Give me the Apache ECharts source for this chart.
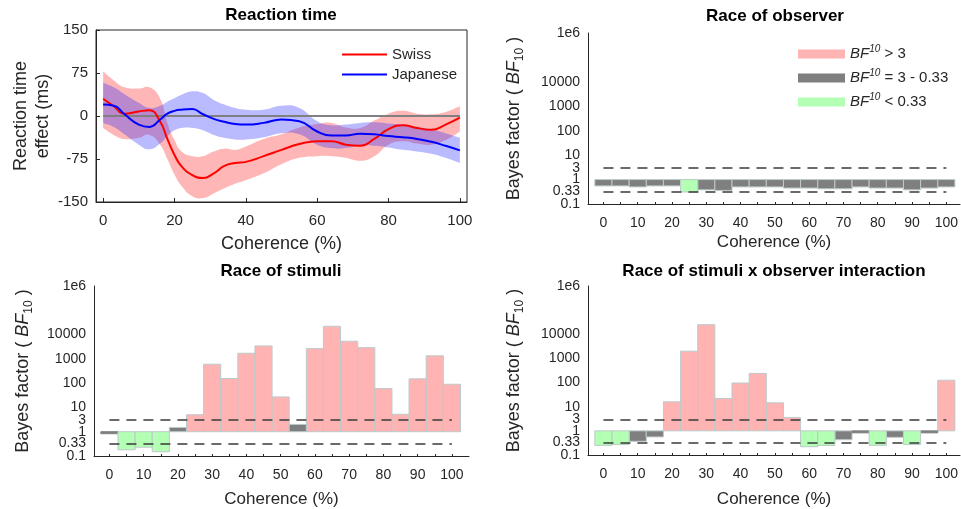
<!DOCTYPE html>
<html><head><meta charset="utf-8">
<script src="https://cdn.jsdelivr.net/npm/echarts@6/dist/echarts.min.js"></script>
<style>html,body{margin:0;padding:0;background:#fff}#c{width:961px;height:509px}</style>
</head><body><div id="c"></div>
<script>
// ---- Reaction time panel data ----
const coherence   = [0,3,6,10,13,16,18,20,22,25,28,31,34,37,40,45,50,55,60,64,68,72,76,80,84,88,92,96,100];
const swissMean   = [30,17,4,8,10,-10,-40,-68,-88,-103,-108,-100,-87,-82,-80,-70,-59,-49,-44,-44,-50,-52,-40,-23,-16,-21,-24,-15,-3];
const swissUpper  = [78,62,50,48,50,30,-12,-42,-62,-70,-70,-62,-57,-59,-53,-40,-32,-20,-14,-12,-20,-21,-8,4,9,4,3,7,17];
const swissLower  = [-21,-33,-40,-38,-33,-50,-75,-102,-122,-140,-143,-135,-126,-118,-112,-100,-84,-73,-70,-70,-73,-78,-70,-50,-44,-48,-50,-42,-27];
const japanMean   = [20,18,3,-15,-19,-6,4,9,11,12,3,-5,-10,-14,-15,-12,-6,-9,-27,-34,-34,-31,-32,-35,-37,-40,-45,-52,-60];
const japanUpper  = [58,50,38,23,14,18,25,31,37,43,40,28,20,14,11,11,18,14,-9,-16,-15,-12,-11,-13,-15,-19,-23,-30,-38];
const japanLower  = [-12,-19,-32,-50,-58,-48,-35,-25,-21,-21,-25,-33,-38,-41,-41,-37,-30,-32,-50,-56,-56,-51,-52,-55,-59,-62,-66,-73,-82];
const rtTicks = [-150,-75,0,75,150];
const rtXTicks = [0,20,40,60,80,100];

// ---- Bayes factor panels data ----
const binCenters = [0,5,10,15,20,25,30,35,40,45,50,55,60,65,70,75,80,85,90,95,100];
const bfObserver    = [0.55,0.55,0.5,0.55,0.55,0.31,0.38,0.36,0.5,0.5,0.5,0.45,0.45,0.42,0.42,0.5,0.45,0.45,0.38,0.45,0.5];
const bfStimuli     = [0.9,0.18,0.23,0.15,1.5,5,600,155,1700,3400,27,2,2650,22000,5300,2900,60,5.2,150,1330,90];
const bfInteraction = [0.25,0.27,0.37,0.56,16,2000,25000,22,96,240,14.5,3.6,0.22,0.25,0.43,0.85,0.25,0.54,0.27,0.85,125];
const bfTicks = [0.1,0.33,1,3,10,100,1000,10000,1000000];
const bfTickLabels = ['0.1','0.33','1','3','10','100','1000','10000','1e6'];
const bfXTicks = [0,10,20,30,40,50,60,70,80,90,100];
const thresholds = [0.33, 3];

const txt = '#262626';
const barColors = {gt:'#FFB3B3', mid:'#7F7F7F', lt:'#B3FFB3'};
const barEdge = '#BCCACA';
const binWidth = 5;
const SMOOTH = 0.5;

const zip = (a,b) => a.map((v,i)=>[v,b[i]]);

// smooth path through pixel points (same scheme as ECharts' smooth line)
function smoothSegs(pts, start){
  let d = start ? 'M' + pts[0][0] + ',' + pts[0][1] : 'L' + pts[0][0] + ',' + pts[0][1];
  let cp0 = pts[0].slice();
  for (let i = 1; i < pts.length; i++) {
    const p = pts[i], prev = pts[i-1], next = pts[Math.min(i+1, pts.length-1)];
    const vx = next[0]-prev[0], vy = next[1]-prev[1];
    const l0 = Math.hypot(p[0]-prev[0], p[1]-prev[1]);
    const l1 = Math.hypot(next[0]-p[0], next[1]-p[1]);
    const r = (l0 + l1) > 0 ? l1/(l0+l1) : 0.5;
    const cp1 = [p[0]-vx*SMOOTH*(1-r), p[1]-vy*SMOOTH*(1-r)];
    d += 'C' + cp0[0] + ',' + cp0[1] + ',' + cp1[0] + ',' + cp1[1] + ',' + p[0] + ',' + p[1];
    cp0 = [p[0]+vx*SMOOTH*r, p[1]+vy*SMOOTH*r];
  }
  return d;
}

function bandSeries(name, upper, lower, color, idx){
  return {type:'custom', name:name, xAxisIndex:idx, yAxisIndex:idx, silent:true, z:1,
    data: coherence.map((c,i)=>[c, lower[i], upper[i]]),
    encode:{x:0, y:[1,2]},
    renderItem:(params, api) => {
      if (params.dataIndex !== 0) return null;
      const up = coherence.map((c,i)=>api.coord([c, upper[i]]));
      const lo = coherence.map((c,i)=>api.coord([c, lower[i]])).reverse();
      const d = smoothSegs(up, true) + smoothSegs(lo, false) + 'Z';
      return {type:'path', shape:{pathData:d}, style:{fill:color, stroke:null}};
    }};
}

function barSeries(values, idx){
  const groups = {gt:[], mid:[], lt:[]};
  binCenters.forEach((c,i)=>{
    const v = values[i];
    const k = v > thresholds[1] ? 'gt' : (v < thresholds[0] ? 'lt' : 'mid');
    groups[k].push([c, v]);
  });
  return ['gt','mid','lt'].map(k => {
    const s = {
      type:'custom', name:k, xAxisIndex:idx, yAxisIndex:idx, data:groups[k],
      itemStyle:{color:barColors[k]}, encode:{x:0, y:1}, silent:true,
      renderItem:(params, api) => {
        const x = api.value(0), v = api.value(1);
        const a = api.coord([x - binWidth/2, 1]);
        const b = api.coord([x + binWidth/2, v]);
        const h = Math.abs(b[1]-a[1]);
        return {type:'rect', shape:{x:a[0], y:Math.min(a[1],b[1]), width:b[0]-a[0], height:Math.max(h,2)},
                style:{fill:barColors[k], stroke: h < 3 ? barColors[k] : barEdge, lineWidth:1}};
      }
    };
    if (k === 'mid') {
      s.markLine = {silent:true, symbol:'none', label:{show:false},
        lineStyle:{color:'#3a3a3a', type:[10,7], width:1.6},
        data: thresholds.map(t => [{coord:[binCenters[0], t]}, {coord:[binCenters[binCenters.length-1], t]}])};
    }
    return s;
  });
}

// label order: keep the two closely spaced low labels away from the first/last slots
const bfLabelValues = [bfTicks[0], ...bfTicks.slice(2), bfTicks[1]];

const bfName = 'Bayes factor ( {i|BF}{sub|10} )';
const bfNameStyle = {fontFamily:'Liberation Sans', fontSize:18, color:txt, lineHeight:24,
  rich:{i:{fontStyle:'italic', fontSize:18, fontFamily:'Liberation Sans', color:txt, lineHeight:24},
        sub:{fontSize:12, fontFamily:'Liberation Sans', color:txt, verticalAlign:'bottom', lineHeight:24}}};

function bfX(idx, max, gap){
  return {type:'value', gridIndex:idx, min:-4.5, max:max,
    axisLine:{onZero:false, lineStyle:{color:txt, width:1}},
    axisTick:{inside:true, length:2, customValues:binCenters, lineStyle:{color:txt}},
    axisLabel:{customValues:bfXTicks, fontFamily:'Liberation Sans', fontSize:14, color:txt, margin:12},
    splitLine:{show:false},
    name:'Coherence (%)', nameLocation:'middle', nameGap:gap,
    nameTextStyle:{fontFamily:'Liberation Sans', fontSize:17, color:txt}};
}
function bfY(idx, gap){
  return {type:'log', logBase:10, gridIndex:idx, min:0.1, max:1000000,
    axisLine:{show:true, onZero:false, lineStyle:{color:txt, width:1}},
    axisTick:{show:false},
    axisLabel:{customValues:bfLabelValues, showMinLabel:true, showMaxLabel:true, hideOverlap:false,
      fontFamily:'Liberation Sans', fontSize:14, color:txt, margin:8,
      formatter:(v)=>{ const i = bfTicks.findIndex(t=>Math.abs(t-v)/t<1e-6); return i>=0 ? bfTickLabels[i] : ''; }},
    splitLine:{show:false},
    name:bfName, nameLocation:'middle', nameGap:gap, nameTextStyle:bfNameStyle};
}

const titles = [
  ['Reaction time', 281, 15],
  ['Race of observer', 775, 16],
  ['Race of stimuli', 281, 271],
  ['Race of stimuli x observer interaction', 774, 271]
];

const option = {
  animation:false,
  backgroundColor:'#fff',
  graphic: titles.map(t => ({type:'text', x:t[1], y:t[2],
    style:{text:t[0], font:'bold 17px "Liberation Sans"', fill:'#000', align:'center', verticalAlign:'middle'}})),
  grid:[
    {left:96, top:30, width:371, height:172, show:true, borderColor:txt, borderWidth:1, backgroundColor:'transparent'},
    {left:588, top:33, width:373, height:171},
    {left:94, top:286, width:375, height:170},
    {left:588, top:286, width:373, height:170}
  ],
  legend:[
    {data:['Swiss','Japanese'], orient:'vertical', left:337, top:42, icon:'rect', itemWidth:45, itemHeight:2, itemGap:5,
     textStyle:{fontFamily:'Liberation Sans', fontSize:15, color:txt}, selectedMode:false},
    {data:[{name:'gt', icon:'rect'},{name:'mid', icon:'rect'},{name:'lt', icon:'rect'}], orient:'vertical', left:793, top:39,
     itemWidth:47, itemHeight:9, itemGap:6.5, selectedMode:false,
     formatter:(n)=>({gt:'{i|BF}{s|10}{t| > 3}', mid:'{i|BF}{s|10}{t| = 3 - 0.33}', lt:'{i|BF}{s|10}{t| < 0.33}'})[n],
     textStyle:{fontFamily:'Liberation Sans', fontSize:15, color:txt, rich:{
       i:{fontStyle:'italic', fontFamily:'Liberation Sans', fontSize:15, color:txt, lineHeight:20},
       s:{fontStyle:'italic', fontFamily:'Liberation Sans', fontSize:10, color:txt, verticalAlign:'top', lineHeight:20},
       t:{fontFamily:'Liberation Sans', fontSize:15, color:txt, lineHeight:20}}}}
  ],
  xAxis:[
    {type:'value', gridIndex:0, min:-2, max:102,
     axisLine:{onZero:false, lineStyle:{color:txt}}, axisTick:{inside:true, length:4, customValues:rtXTicks, lineStyle:{color:txt}},
     axisLabel:{customValues:rtXTicks, fontFamily:'Liberation Sans', fontSize:15, color:txt, margin:11},
     splitLine:{show:false},
     name:'Coherence (%)', nameLocation:'middle', nameGap:33, nameTextStyle:{fontFamily:'Liberation Sans', fontSize:18, color:txt}},
    bfX(1, 104, 30), bfX(2, 105, 35), bfX(3, 104, 36)
  ],
  yAxis:[
    {type:'value', gridIndex:0, min:rtTicks[0], max:rtTicks[rtTicks.length-1], interval:75,
     axisLine:{show:true, onZero:false, lineStyle:{color:txt}}, axisTick:{inside:true, length:4, lineStyle:{color:txt}},
     axisLabel:{fontFamily:'Liberation Sans', fontSize:15, color:txt, margin:8, showMinLabel:true},
     splitLine:{show:false},
     name:'Reaction time\neffect (ms)', nameLocation:'middle', nameGap:40,
     nameTextStyle:{fontFamily:'Liberation Sans', fontSize:18, color:txt, lineHeight:22}},
    bfY(1, 62), bfY(2, 59), bfY(3, 62)
  ],
  series:[
    bandSeries('swissBand', swissUpper, swissLower, 'rgba(255,40,40,0.34)', 0),
    bandSeries('japanBand', japanUpper, japanLower, 'rgba(40,40,255,0.32)', 0),
    {type:'line', name:'Swiss', xAxisIndex:0, yAxisIndex:0, data:zip(coherence, swissMean), smooth:SMOOTH, symbol:'none',
     color:'#FF0000', lineStyle:{color:'#FF0000', width:2}, z:4,
     markLine:{silent:true, symbol:'none', label:{show:false}, lineStyle:{color:'#808080', type:'solid', width:2.2, opacity:1}, z:3,
       data:[[{coord:[0,0]},{coord:[100,0]}]]}},
    {type:'line', name:'Japanese', xAxisIndex:0, yAxisIndex:0, data:zip(coherence, japanMean), smooth:SMOOTH, symbol:'none',
     color:'#0000FF', lineStyle:{color:'#0000FF', width:2}, z:4},
    ...barSeries(bfObserver, 1),
    ...barSeries(bfStimuli, 2),
    ...barSeries(bfInteraction, 3)
  ]
};
const chart = echarts.init(document.getElementById('c'), null, {renderer:'canvas'});
chart.setOption(option);
</script></body></html>
